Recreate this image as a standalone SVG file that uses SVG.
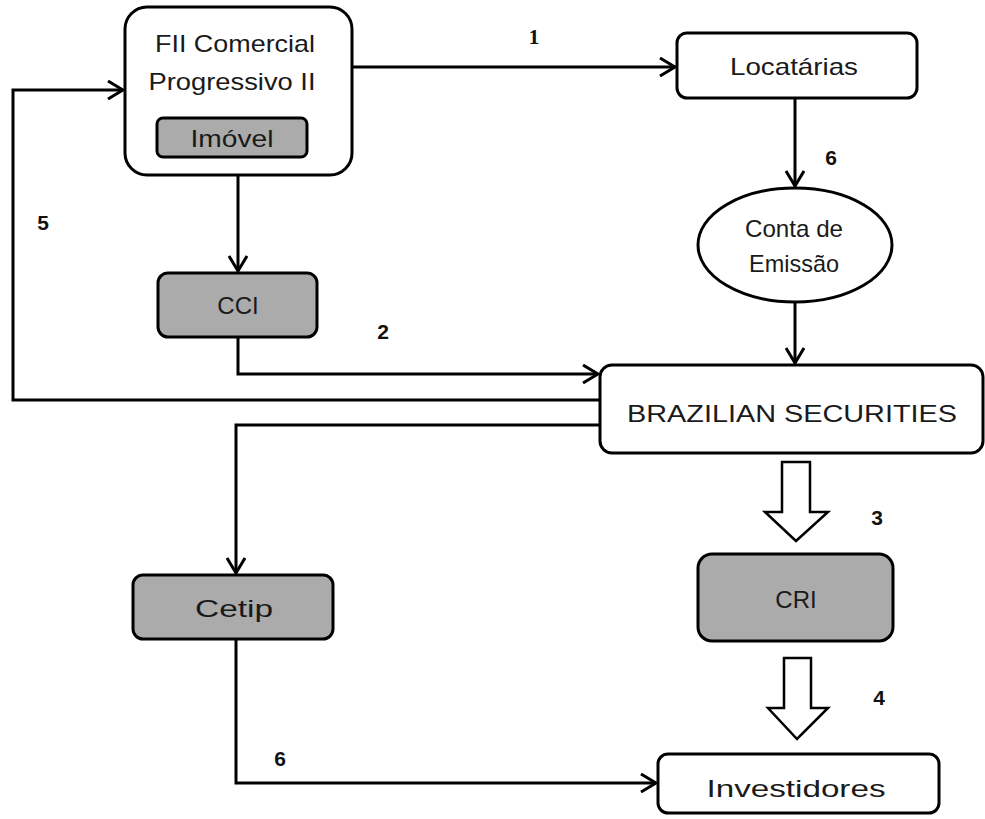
<svg xmlns="http://www.w3.org/2000/svg" width="985" height="819" viewBox="0 0 985 819">
<style>
.box{fill:#fff;stroke:#000;stroke-width:3}
.gray{fill:#ababab;stroke:#000;stroke-width:3}
.t{font-family:"Liberation Sans",Arial,sans-serif;font-size:24px;fill:#1a1a1a;text-anchor:middle}
.n{font-family:"Liberation Sans",Arial,sans-serif;font-size:21px;font-weight:bold;fill:#111;text-anchor:middle}
.s{font-family:"Liberation Serif","Times New Roman",serif;font-size:21px;font-weight:bold;fill:#111;text-anchor:middle}
.c{fill:none;stroke:#000;stroke-width:3}
.blk{fill:#fff;stroke:#000;stroke-width:2.5;stroke-linejoin:miter}
</style>
<defs>
<marker id="ah" markerUnits="userSpaceOnUse" viewBox="-16 -10 18 20" refX="0" refY="0" markerWidth="18" markerHeight="20" orient="auto">
<path d="M-15,-9 L0,0 L-15,9" fill="none" stroke="#000" stroke-width="3"/>
</marker>
</defs>
<rect width="985" height="819" fill="#fff"/>
<g id="connectors">
<path class="c" d="M352,67 H675" marker-end="url(#ah)"/>
<path class="c" d="M238,175 V271" marker-end="url(#ah)"/>
<path class="c" d="M238,337 V374 H598" marker-end="url(#ah)"/>
<path class="c" d="M600,400 H13 V90 H123" marker-end="url(#ah)"/>
<path class="c" d="M600,425 H236 V573" marker-end="url(#ah)"/>
<path class="c" d="M236,639 V783 H656" marker-end="url(#ah)"/>
<path class="c" d="M795,98 V186" marker-end="url(#ah)"/>
<path class="c" d="M795,302 V363" marker-end="url(#ah)"/>
<polygon class="blk" points="782,462 810,462 810,512 828,512 796,541 765,512 782,512"/>
<polygon class="blk" points="784,658 811,658 811,708 828,708 797,739 768,708 784,708"/>
<text class="s" x="534" y="44">1</text>
<text class="n" x="383" y="339">2</text>
<text class="n" x="877" y="525">3</text>
<text class="n" x="879" y="705">4</text>
<text class="n" x="43" y="230">5</text>
<text class="n" x="831" y="165">6</text>
<text class="n" x="280" y="766">6</text>
</g>
<g id="fii">
<rect class="box" x="125" y="7" width="227" height="168" rx="22"/>
<text class="t" x="235" y="52" font-size="25" textLength="160" lengthAdjust="spacingAndGlyphs">FII Comercial</text>
<text class="t" x="232" y="90" font-size="25" textLength="167" lengthAdjust="spacingAndGlyphs">Progressivo II</text>
<g id="imovel">
<rect class="gray" x="157" y="118" width="150" height="39" rx="6"/>
<text class="t" x="232" y="147" font-size="25" textLength="83" lengthAdjust="spacingAndGlyphs">Imóvel</text>
</g>
</g>
<g id="cci">
<rect class="gray" x="158" y="273" width="159" height="64" rx="10"/>
<text class="t" x="238" y="314" font-size="26">CCI</text>
</g>
<g id="locatarias">
<rect class="box" x="677" y="33" width="240" height="65" rx="10"/>
<text class="t" x="794" y="75" textLength="128" lengthAdjust="spacingAndGlyphs">Locatárias</text>
</g>
<g id="conta">
<ellipse class="box" cx="795" cy="245" rx="97" ry="57"/>
<text class="t" x="794" y="237" font-size="21" textLength="98" lengthAdjust="spacingAndGlyphs">Conta de</text>
<text class="t" x="794" y="272" font-size="21" textLength="90" lengthAdjust="spacingAndGlyphs">Emissão</text>
</g>
<g id="brazilian">
<rect class="box" x="600" y="365" width="383" height="88" rx="12"/>
<text class="t" x="792" y="422" font-size="31" textLength="330" lengthAdjust="spacingAndGlyphs">BRAZILIAN SECURITIES</text>
</g>
<g id="cetip">
<rect class="gray" x="133" y="575" width="200" height="64" rx="10"/>
<text class="t" x="234" y="617" font-size="26" textLength="78" lengthAdjust="spacingAndGlyphs">Cetip</text>
</g>
<g id="cri">
<rect class="gray" x="698" y="554" width="195" height="87" rx="14"/>
<text class="t" x="796" y="608" font-size="27">CRI</text>
</g>
<g id="investidores">
<rect class="box" x="658" y="754" width="281" height="59" rx="10"/>
<text class="t" x="796" y="797" font-size="28" textLength="179" lengthAdjust="spacingAndGlyphs">Investidores</text>
</g>
</svg>
